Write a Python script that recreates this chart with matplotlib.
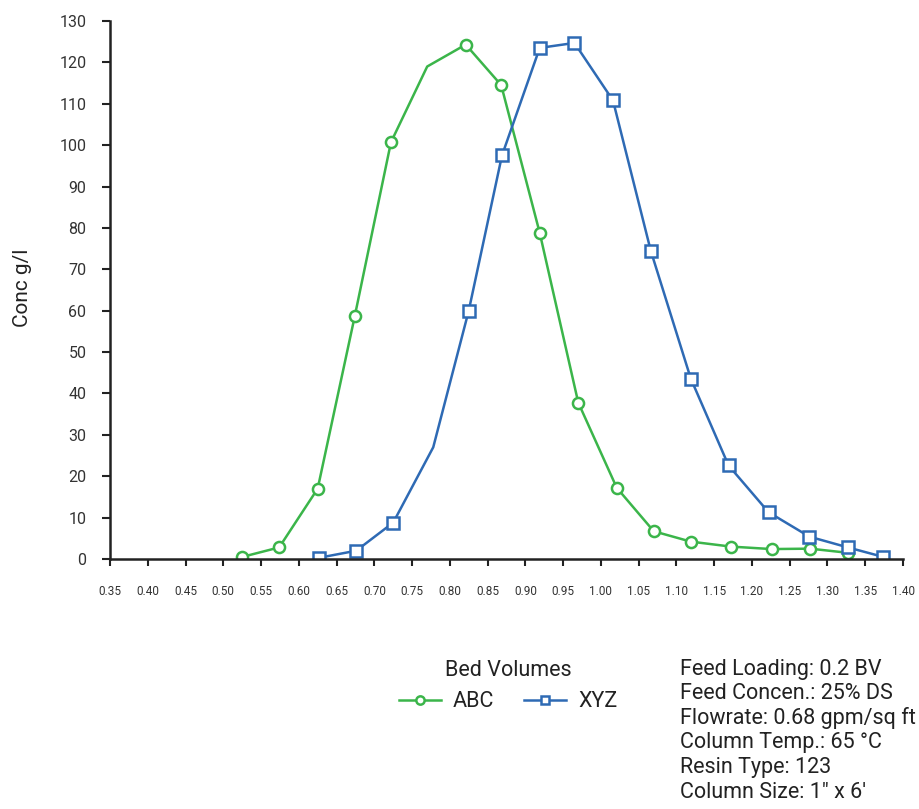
import matplotlib
matplotlib.use("Agg")
import matplotlib.pyplot as plt

plt.rcParams['font.family'] = ['Roboto', 'DejaVu Sans']

# bed volumes vs concentration
abc_x = [0.525, 0.574, 0.625, 0.674, 0.722, 0.770, 0.821, 0.868, 0.919, 0.970,
         1.021, 1.070, 1.119, 1.172, 1.226, 1.277, 1.327]
abc_y = [0.5, 2.8, 17.0, 58.6, 100.7, 119.0, 124.3, 114.5, 78.8, 37.8,
         17.2, 6.7, 4.2, 3.0, 2.4, 2.5, 1.5]
xyz_x = [0.627, 0.676, 0.725, 0.778, 0.825, 0.869, 0.919, 0.965, 1.016, 1.066,
         1.119, 1.169, 1.222, 1.276, 1.327, 1.374]
xyz_y = [0.3, 2.0, 8.8, 27.0, 60.0, 97.5, 123.5, 124.7, 110.8, 74.5,
         43.6, 22.6, 11.3, 5.4, 2.8, 0.5]
x_ticks = [0.35 + 0.05 * i for i in range(22)]
y_ticks = list(range(0, 131, 10))
notes = ["Feed Loading: 0.2 BV", "Feed Concen.: 25% DS", "Flowrate: 0.68 gpm/sq ft",
         "Column Temp.: 65 \u00b0C", "Resin Type: 123", "Column Size: 1\u2033 x 6\u2032"]

green = "#3bb54a"
blue = "#2e6ab4"
txt = "#222222"

fig = plt.figure(figsize=(9.19, 8.09), dpi=100)
ax = fig.add_axes([110 / 919, 1 - 559 / 809, 793 / 919, 538 / 809])

# the 4th (abc 6th) point has no marker in the original
abc_marks = [i for i in range(len(abc_x)) if i != 5]
xyz_marks = [i for i in range(len(xyz_x)) if i != 3]

ax.plot(abc_x, abc_y, color=green, lw=1.8, marker="o", ms=8, mfc="white",
        mec=green, mew=1.8, markevery=abc_marks, label="ABC")
ax.plot(xyz_x, xyz_y, color=blue, lw=1.8, marker="s", ms=8, mfc="white",
        mec=blue, mew=1.8, markevery=xyz_marks, label="XYZ")

ax.set_xlim(0.35, 1.40)
ax.set_ylim(0, 130)
ax.set_xticks(x_ticks)
ax.set_xticklabels(["%.2f" % t for t in x_ticks], fontsize=8.5, color="#333333")
ax.set_yticks(y_ticks)
ax.set_yticklabels([str(t) for t in y_ticks], fontsize=11.5, color="#333333")
ax.tick_params(axis="x", length=5, width=1.5, pad=14, color=txt)
ax.tick_params(axis="y", length=6, width=1.5, pad=11, color=txt)
for s in ["top", "right"]:
    ax.spines[s].set_visible(False)
for s in ["left", "bottom"]:
    ax.spines[s].set_linewidth(1.8)
    ax.spines[s].set_color(txt)

fig.text(22 / 919, 1 - 288 / 809, "Conc g/l", rotation=90, fontsize=15,
         color=txt, ha="center", va="center")

leg = fig.legend(loc="center", bbox_to_anchor=(508 / 919, 1 - 686 / 809), ncol=2,
                 frameon=False, title="Bed Volumes", fontsize=15.5, title_fontsize=15.5,
                 handlelength=1.95, columnspacing=1.4, handletextpad=0.55,
                 markerscale=0.75)
for t in leg.get_texts():
    t.set_color(txt)
leg.get_title().set_color(txt)

for i, line in enumerate(notes):
    fig.text(680 / 919, 1 - (669 + 24.6 * i) / 809, line, fontsize=15.5, color=txt,
             ha="left", va="center")

fig.savefig("out.png", dpi=100)
